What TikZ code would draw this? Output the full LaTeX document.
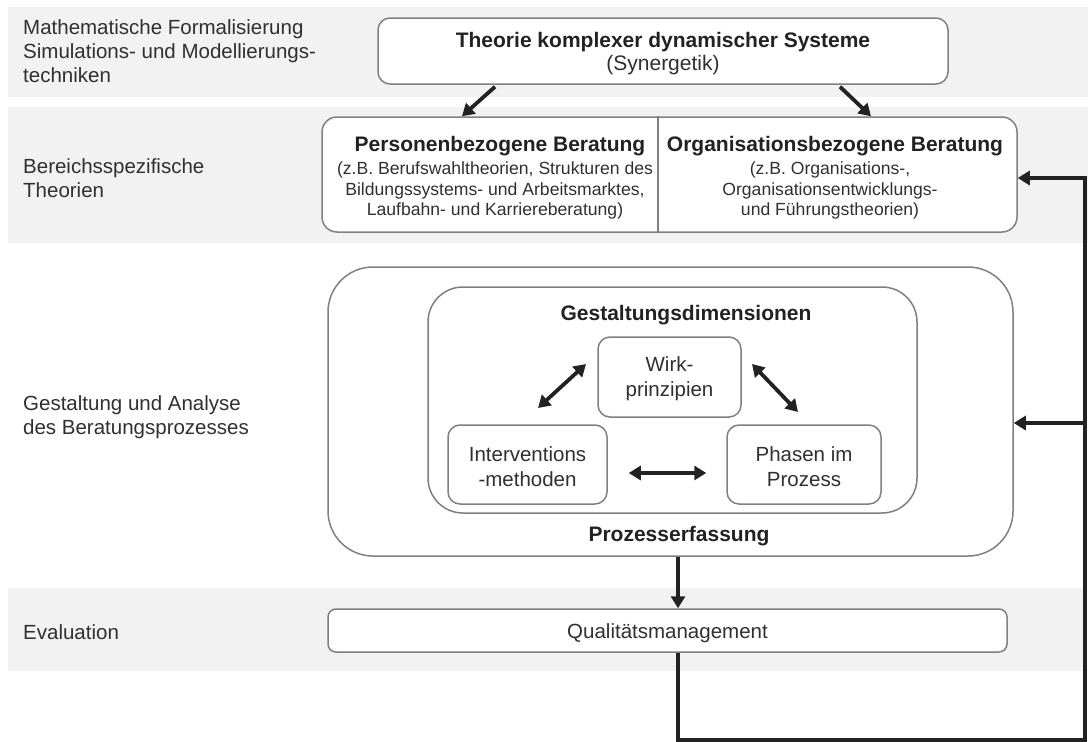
\documentclass[tikz,border=0pt]{standalone}
\usepackage{fontspec}
\setmainfont{Liberation Sans}
\usetikzlibrary{arrows.meta,calc}
\definecolor{bandgray}{HTML}{F2F2F2}
\definecolor{boxline}{HTML}{808080}
\definecolor{txt}{HTML}{303030}
\definecolor{ink}{HTML}{222222}
\tikzset{
  box/.style={draw=boxline, line width=1.5pt, fill=white, inner sep=0pt, align=center, text=txt},
  lab/.style={anchor=west, align=left, text=txt, inner sep=0pt, font=\fontsize{20.5}{24}\selectfont},
  ttl/.style={inner sep=0pt, text=ink, font=\bfseries\fontsize{21}{24}\selectfont},
  small/.style={inner sep=0pt, align=center, text=txt, font=\fontsize{17.6}{20.5}\selectfont},
  reg/.style={inner sep=0pt, align=center, text=txt, font=\fontsize{20.5}{25}\selectfont},
  arr/.style={draw=ink, line width=3.8pt, -{Triangle[length=12pt,width=14pt]}},
  darr/.style={draw=ink, line width=3.8pt, {Triangle[length=12pt,width=14pt]}-{Triangle[length=12pt,width=14pt]}},
}
\begin{document}
\begin{tikzpicture}[x=1pt,y=-1pt]
\useasboundingbox (0,0) rectangle (1088,742);
\fill[white] (0,0) rectangle (1088,742);
\fill[bandgray] (8,7) rectangle (1088,97);
\fill[bandgray] (8,107) rectangle (1088,243);
\fill[bandgray] (8,588) rectangle (1086,671);

% left labels
\node[lab] (l1) at (23,51) {Mathematische Formalisierung\\Simulations- und Modellierungs-\\techniken};
\node[lab] (l2) at (23,178) {Bereichsspezifische\\Theorien};
\node[lab] (l3) at (23,417) {Gestaltung und Analyse\\des Beratungsprozesses};
\node[lab] (l4) at (23,632) {Evaluation};

% top box
\node[box, rounded corners=12pt, minimum width=570pt, minimum height=66pt] (top) at (663,51) {};
\node[reg, font=\fontsize{21}{23}\selectfont] (toptxt) at (663,54) {\textbf{\color{ink}Theorie komplexer dynamischer Systeme}\\(Synergetik)};

% middle box
\node[box, rounded corners=15pt, minimum width=695pt, minimum height=115pt] (mid) at (669.5,174.5) {};
\coordinate (dv) at (658,0);
\draw[draw=boxline, line width=1.5pt] (dv |- mid.north) -- (dv |- mid.south);
\node[ttl] (pt) at (500,146) {Personenbezogene Beratung};
\node[small] (pb) at (495,190.5) {(z.B. Berufswahltheorien, Strukturen des\\Bildungssystems- und Arbeitsmarktes,\\Laufbahn- und Karriereberatung)};
\node[ttl] (ot) at (835,146) {Organisationsbezogene Beratung};
\node[small] (ob) at (830,190.5) {(z.B. Organisations-,\\Organisationsentwicklungs-\\und Führungstheorien)};

\draw[arr] ([xshift=-168pt,yshift=-2pt]top.south) -- ([xshift=-207.5pt]mid.north);
\draw[arr] ([xshift=177pt,yshift=-2pt]top.south) -- ([xshift=201.5pt]mid.north);

% process boxes
\node[box, rounded corners=45pt, minimum width=685pt, minimum height=289pt] (outer) at (670.5,411.5) {};
\node[box, rounded corners=35pt, minimum width=489pt, minimum height=226pt] (inner) at (672.5,400) {};
\node[ttl] (gd) at (686,315) {Gestaltungsdimensionen};
\node[ttl] (pe) at (679,536) {Prozesserfassung};
\node[box, rounded corners=12pt, minimum width=143pt, minimum height=80pt, reg] (wirk) at (669.5,377) {};
\node[reg] (wirktxt) at (669.5,379) {Wirk-\\prinzipien};
\node[box, rounded corners=12pt, minimum width=159pt, minimum height=79pt] (interv) at (527.5,464.5) {};
\node[reg] (intervtxt) at (527.5,467) {Interventions\\-methoden};
\node[box, rounded corners=12pt, minimum width=154pt, minimum height=79pt] (phasen) at (804,464.5) {};
\node[reg] (phasentxt) at (804,467) {Phasen im\\Prozess};

\coordinate (a1) at (538,408);
\coordinate (a2) at (586,364);
\coordinate (b1) at (752,364);
\coordinate (b2) at (798,412);
\draw[darr] (a1) -- (a2);
\draw[darr] (b1) -- (b2);
\draw[darr] ([xshift=21pt,yshift=-8.5pt]interv.east) -- ([xshift=-20pt,yshift=-8.5pt]phasen.west);

% evaluation
\node[box, rounded corners=8pt, minimum width=679pt, minimum height=43pt] (qual) at (667.5,630.5) {};
\node[reg] (qualtxt) at (667.5,633) {Qualitätsmanagement};

\coordinate (ax) at (678,0);
\draw[arr] (ax |- outer.south) -- (ax |- qual.north);

% feedback loop
\coordinate (fbc) at (1085,740);
\coordinate (j1) at (1085,178);
\coordinate (j2) at (1085,423);
\draw[arr, line width=3.5pt] (ax |- qual.south) |- (fbc) -- (j1) -- (j1 -| mid.east);
\draw[arr, line width=3.5pt] (j2) -- (j2 -| outer.east);
\end{tikzpicture}
\end{document}
